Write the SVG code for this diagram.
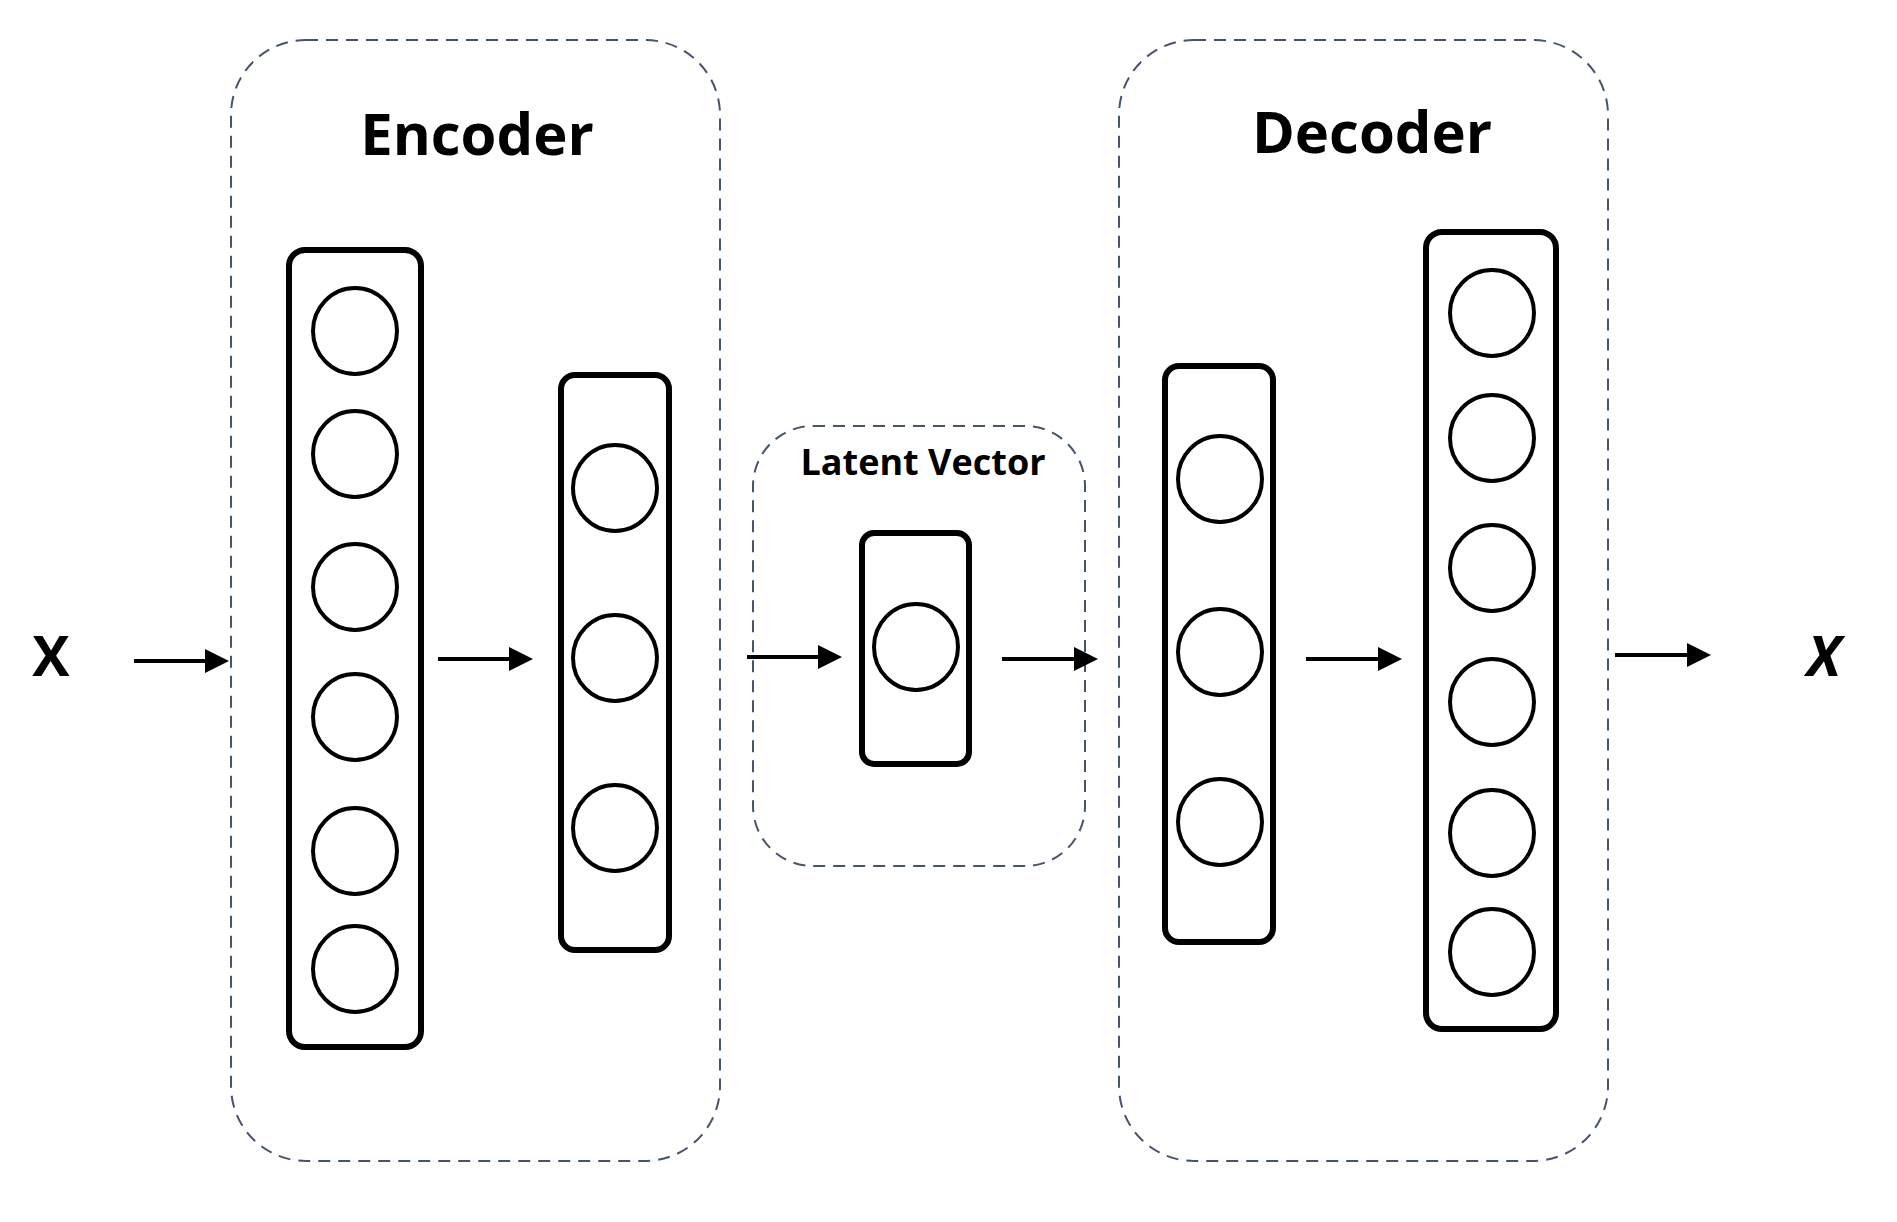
<svg xmlns="http://www.w3.org/2000/svg" width="1897" height="1222" viewBox="0 0 1897 1222">
<style>
.grp{fill:none;stroke:#44546a;stroke-width:2;stroke-dasharray:12,8}
.layer{fill:none;stroke:#000;stroke-width:6}
.n{fill:none;stroke:#000;stroke-width:4}
.t{font-family:"Open Sans","Liberation Sans",sans-serif;font-weight:bold;fill:#000;text-anchor:middle}
.a{stroke:#000;stroke-width:4;fill:none;marker-end:url(#ah)}
</style>
<defs><marker id="ah" markerWidth="6" markerHeight="6" refX="5" refY="3" orient="auto" markerUnits="strokeWidth"><path d="M0,0L6,3L0,6z" fill="#000"/></marker></defs>
<rect width="1897" height="1222" fill="#fff"/>
<g id="encoder">
<rect class="grp" x="231" y="40" width="489" height="1121" rx="75"/>
<text class="t" x="477" y="155" font-size="58">Encoder</text>
</g>
<g id="enc1">
<rect class="layer" x="289" y="250" width="132" height="797" rx="16"/>
<ellipse class="n" cx="355" cy="331" rx="42" ry="43"/><ellipse class="n" cx="355" cy="454" rx="42" ry="43"/><ellipse class="n" cx="355" cy="587" rx="42" ry="43"/><ellipse class="n" cx="355" cy="717" rx="42" ry="43"/><ellipse class="n" cx="355" cy="851" rx="42" ry="43"/><ellipse class="n" cx="355" cy="969" rx="42" ry="43"/>
</g>
<g id="enc2">
<rect class="layer" x="561" y="375" width="108" height="575" rx="14"/>
<ellipse class="n" cx="615" cy="488" rx="42" ry="43"/><ellipse class="n" cx="615" cy="658" rx="42" ry="43"/><ellipse class="n" cx="615" cy="828" rx="42" ry="43"/>
</g>
<g id="latent">
<rect class="grp" x="753" y="426" width="332" height="440" rx="60"/>
<text class="t" x="923" y="475" font-size="36">Latent Vector</text>
<rect class="layer" x="862" y="533" width="107" height="231" rx="12"/>
<ellipse class="n" cx="916" cy="647" rx="42" ry="43"/>
</g>
<g id="decoder">
<rect class="grp" x="1119" y="40" width="489" height="1121" rx="75"/>
<text class="t" x="1372" y="153" font-size="58">Decoder</text>
</g>
<g id="dec1">
<rect class="layer" x="1165" y="366" width="108" height="576" rx="14"/>
<ellipse class="n" cx="1220" cy="479" rx="42" ry="43"/><ellipse class="n" cx="1220" cy="652" rx="42" ry="43"/><ellipse class="n" cx="1220" cy="822" rx="42" ry="43"/>
</g>
<g id="dec2">
<rect class="layer" x="1426" y="232" width="130" height="797" rx="16"/>
<ellipse class="n" cx="1492" cy="313" rx="42" ry="43"/><ellipse class="n" cx="1492" cy="438" rx="42" ry="43"/><ellipse class="n" cx="1492" cy="568" rx="42" ry="43"/><ellipse class="n" cx="1492" cy="702" rx="42" ry="43"/><ellipse class="n" cx="1492" cy="833" rx="42" ry="43"/><ellipse class="n" cx="1492" cy="952" rx="42" ry="43"/>
</g>
<g id="x-in"><text class="t" x="51" y="676" font-size="56">X</text></g>
<g id="x-out"><text class="t" x="1824" y="676" font-size="56" font-style="italic">X</text></g>
<g id="connectors">
<line class="a" x1="134" y1="661" x2="225" y2="661"/>
<line class="a" x1="438" y1="659" x2="529" y2="659"/>
<line class="a" x1="747" y1="657" x2="838" y2="657"/>
<line class="a" x1="1002" y1="659" x2="1094" y2="659"/>
<line class="a" x1="1306" y1="659" x2="1398" y2="659"/>
<line class="a" x1="1615" y1="655" x2="1707" y2="655"/>
</g>
</svg>
